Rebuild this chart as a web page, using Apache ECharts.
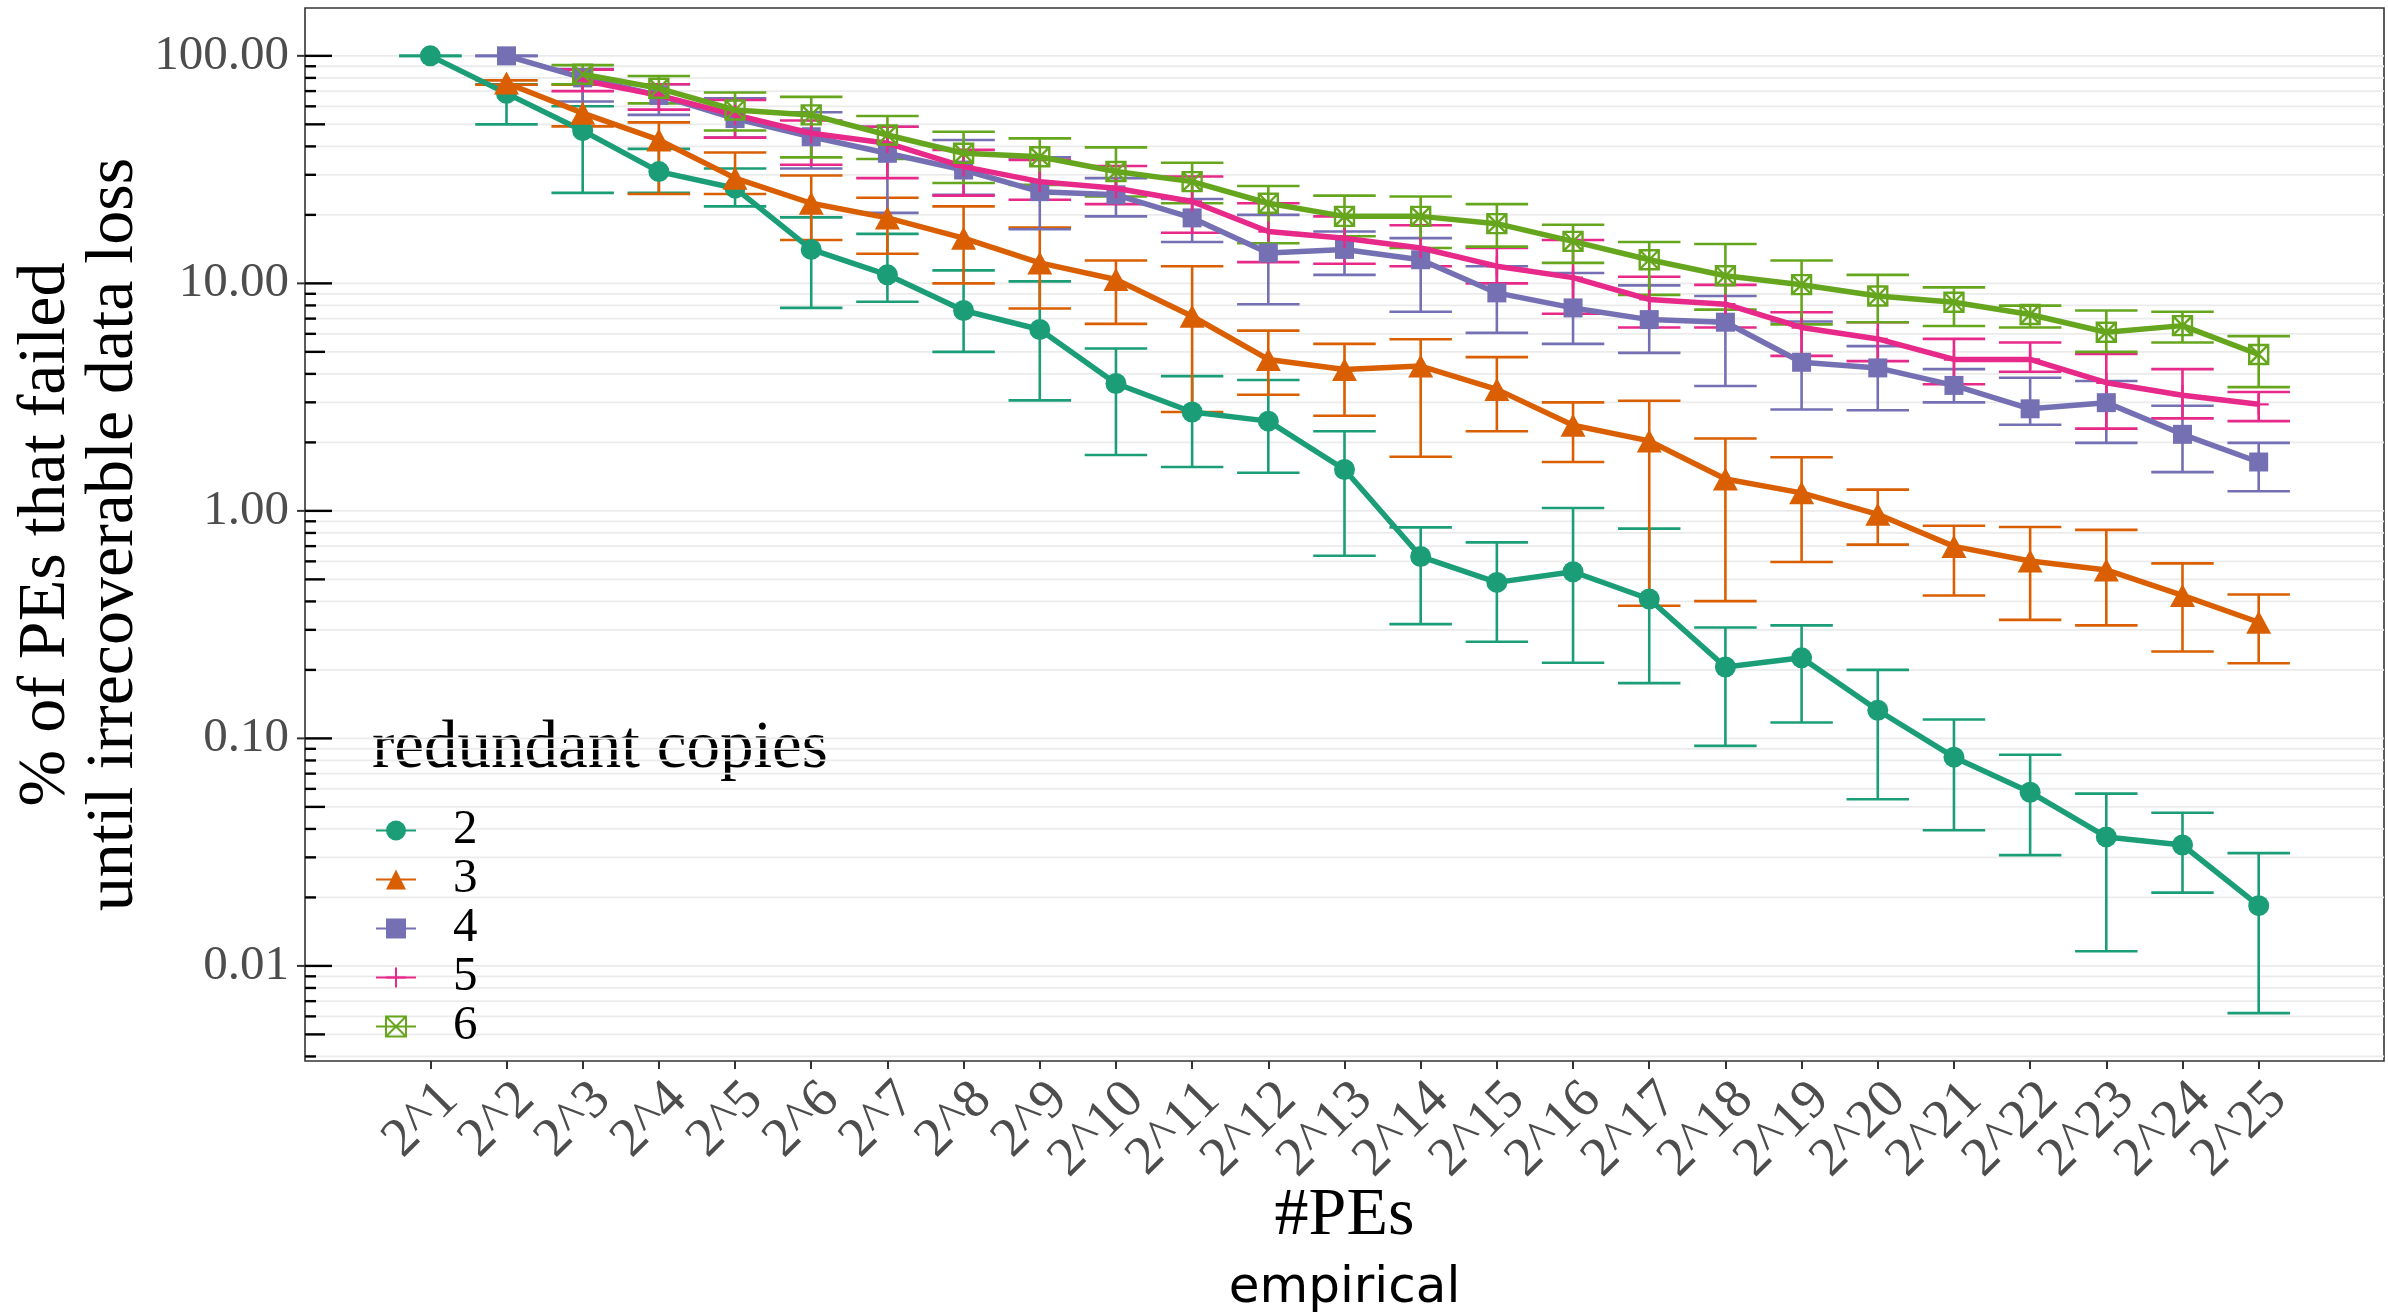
<!DOCTYPE html>
<html>
<head>
<meta charset="utf-8">
<script src="https://cdn.jsdelivr.net/npm/echarts@6/dist/echarts.min.js"></script>
<style>
  html, body { margin: 0; padding: 0; background: #ffffff; }
  #chart { width: 2388px; height: 1313px; }
</style>
</head>
<body>
<div id="chart"></div>
<script>
// x categories: number of PEs
const categories = ['2^1','2^2','2^3','2^4','2^5','2^6','2^7','2^8','2^9','2^10','2^11','2^12','2^13',
  '2^14','2^15','2^16','2^17','2^18','2^19','2^20','2^21','2^22','2^23','2^24','2^25'];

// legend groups: redundant copies
const copies = ['2', '3', '4', '5', '6'];

// mean and error range per group (percent, null = not measured)
const mean2 = [100, 68.4, 46.9, 31, 26.2, 14.1, 10.9, 7.6, 6.27, 3.63, 2.72, 2.48, 1.52, 0.63, 0.485, 0.54, 0.41, 0.206, 0.226, 0.133, 0.0827, 0.058, 0.0369, 0.034, 0.0184];
const lo2   = [100, 50, 25, 25, 21.8, 7.8, 8.3, 5.0, 3.06, 1.76, 1.56, 1.47, 0.635, 0.318, 0.266, 0.215, 0.175, 0.0927, 0.1175, 0.054, 0.0395, 0.0307, 0.0116, 0.021, 0.0062];
const hi2   = [100, 75, 60, 39, 32, 19.5, 16.5, 11.4, 10.2, 5.17, 3.91, 3.76, 2.24, 0.846, 0.727, 1.03, 0.836, 0.307, 0.314, 0.2, 0.121, 0.0847, 0.0572, 0.0471, 0.0313];

const mean3 = [null, 76, 56, 42.7, 29, 22.5, 19.4, 15.8, 12.3, 10.4, 7.17, 4.63, 4.18, 4.33, 3.42, 2.38, 2.03, 1.38, 1.2, 0.966, 0.698, 0.602, 0.55, 0.425, 0.324];
const lo3   = [null, 74.6, 49, 24.7, 24.7, 15.5, 13.5, 10.0, 7.75, 6.64, 2.72, 3.24, 2.62, 1.73, 2.24, 1.64, 0.383, 0.401, 0.596, 0.711, 0.425, 0.332, 0.314, 0.241, 0.214];
const hi3   = [null, 78, 74.6, 51, 37.6, 29.8, 23.8, 21.8, 17.6, 12.6, 11.9, 6.2, 5.42, 5.68, 4.74, 3.0, 3.05, 2.08, 1.72, 1.24, 0.86, 0.85, 0.825, 0.588, 0.429];

const mean4 = [null, 100, 80, 67, 53, 44.1, 37.3, 31.5, 25.3, 24.5, 19.4, 13.6, 14.1, 12.7, 9.08, 7.8, 6.93, 6.75, 4.5, 4.25, 3.56, 2.81, 2.99, 2.17, 1.64];
const lo4   = [null, 100, 63, 55, 43.7, 32, 20.4, 24.5, 17.3, 19.7, 15.2, 8.1, 10.9, 7.5, 6.06, 5.42, 4.95, 3.54, 2.79, 2.77, 3.0, 2.39, 1.99, 1.48, 1.22];
const hi4   = [null, 100, 87.5, 75, 65, 56.5, 48.8, 42.7, 35.8, 29, 23.5, 20, 16.9, 15.8, 11.9, 11.1, 9.8, 8.8, 6.8, 5.3, 4.2, 3.85, 3.72, 2.9, 1.99];

const mean5 = [null, null, 78, 67, 55, 45.7, 41.3, 32.6, 28, 26.2, 22.9, 16.9, 15.8, 14.3, 11.9, 10.6, 8.5, 8.1, 6.4, 5.7, 4.63, 4.63, 3.66, 3.22, 2.94];
const lo5   = [null, null, 70, 58, 43.7, 33.2, 29, 24.3, 23.3, 22.3, 16.7, 12.4, 12.2, 11.9, 10, 7.35, 6.4, 6.4, 4.8, 4.55, 3.6, 4.09, 2.3, 2.55, 2.48];
const hi5   = [null, null, 87, 75, 64, 52, 48.8, 38.6, 34.9, 32.8, 29.5, 22.5, 19.7, 18, 14.3, 15.5, 10.7, 9.85, 7.46, 6.75, 5.7, 5.5, 4.9, 4.2, 3.33];

const mean6 = [null, null, 83, 72, 57.8, 55, 44.9, 37.3, 36, 31, 28, 22.5, 19.7, 19.7, 18.3, 15.3, 12.7, 10.8, 9.87, 8.8, 8.26, 7.3, 6.1, 6.52, 4.87];
const lo6   = [null, null, 75, 61.8, 47, 35.8, 35.2, 27.6, 27.1, 24.1, 22.5, 15, 16.1, 14.3, 14.5, 12.3, 8.9, 7.67, 6.6, 6.75, 6.5, 6.4, 5.0, 5.5, 3.5];
const hi6   = [null, null, 91, 81.5, 69, 66, 54.4, 46.4, 43.4, 39.6, 33.9, 26.8, 24.3, 24.1, 22.3, 18.1, 15.2, 14.9, 12.6, 10.9, 9.6, 7.98, 7.6, 7.5, 5.86];

// y axis: decades used for labels, grid lines and log ticks
const yLabelValues = [0.01, 0.1, 1, 10, 100];
const decades = [0.001, 0.01, 0.1, 1, 10, 100];
const mantissas = [1, 2, 3, 4, 5, 6, 7, 8, 9];

// ---------------------------------------------------------------
const groups = [
  { name: copies[0], mean: mean2, lo: lo2, hi: hi2, color: '#1B9E77', symbol: 'circle', size: 21 },
  { name: copies[1], mean: mean3, lo: lo3, hi: hi3, color: '#D95F02', symbol: 'triangle', size: [25, 23] },
  { name: copies[2], mean: mean4, lo: lo4, hi: hi4, color: '#7570B3', symbol: 'rect', size: 19 },
  { name: copies[3], mean: mean5, lo: lo5, hi: hi5, color: '#E7298A', symbol: 'path://M5,0L5,10M0,5L10,5', size: 20, hollow: true },
  { name: copies[4], mean: mean6, lo: lo6, hi: hi6, color: '#66A61E', symbol: 'path://M0,0L10,0L10,10L0,10ZM0,0L10,10M10,0L0,10', size: 19, hollow: true }
];

const Y_MIN = 0.00382, Y_MAX = 162.3;
const X_MIN = -0.645, X_MAX = 26.645;
const CAP_HALF = 0.41;
const SERIF = "'Liberation Serif', 'Times New Roman', serif";
const PANEL = { left: 305, top: 8, width: 2079, height: 1053 };

const xTickValues = categories.map((c, i) => i + 1);
// blank labels at both panel edges keep the end labels from being dropped as overlapping
const xLabelValues = [X_MIN].concat(xTickValues, [X_MAX]);

const gridValues = [];
decades.forEach(d => mantissas.forEach(m => {
  const v = +(d * m).toPrecision(6);
  if (v >= Y_MIN && v <= Y_MAX) gridValues.push({ value: [1, v], mant: m });
}));

const series = [];

// horizontal grid lines at every 1..9 x 10^k
series.push({
  type: 'custom',
  silent: true,
  z: 1,
  clip: true,
  data: gridValues.map(g => g.value),
  renderItem: (params, api) => {
    const cs = params.coordSys;
    const y = api.coord([1, api.value(1)])[1];
    return {
      type: 'line',
      shape: { x1: cs.x, y1: y, x2: cs.x + cs.width, y2: y },
      style: { stroke: '#EBEBEB', lineWidth: 1.8 }
    };
  }
});

// error bars
groups.forEach(g => {
  const data = [];
  g.mean.forEach((m, i) => { if (m !== null) data.push([i + 1, g.lo[i], g.hi[i]]); });
  series.push({
    type: 'custom',
    silent: true,
    z: 2,
    data: data,
    encode: { x: 0, y: [1, 2] },
    renderItem: (params, api) => {
      const x = api.value(0);
      const pLo = api.coord([x, api.value(1)]);
      const pHi = api.coord([x, api.value(2)]);
      const xl = api.coord([x - CAP_HALF, api.value(1)])[0];
      const xr = api.coord([x + CAP_HALF, api.value(1)])[0];
      const st = { stroke: g.color, lineWidth: 2.6 };
      return {
        type: 'group',
        children: [
          { type: 'line', shape: { x1: pLo[0], y1: pLo[1], x2: pHi[0], y2: pHi[1] }, style: st },
          { type: 'line', shape: { x1: xl, y1: pLo[1], x2: xr, y2: pLo[1] }, style: st },
          { type: 'line', shape: { x1: xl, y1: pHi[1], x2: xr, y2: pHi[1] }, style: st }
        ]
      };
    }
  });
});

// mean lines with point markers
groups.forEach((g, gi) => {
  const data = [];
  g.mean.forEach((m, i) => { if (m !== null) data.push([i + 1, m]); });
  series.push({
    name: g.name,
    type: 'line',
    z: 3 + gi * 0.01,
    data: data,
    symbol: g.symbol,
    symbolSize: g.size,
    showSymbol: true,
    lineStyle: { color: g.color, width: 5.5 },
    itemStyle: g.hollow
      ? { color: 'rgba(255,255,255,0)', borderColor: g.color, borderWidth: 2.4 }
      : { color: g.color, borderWidth: 0 },
    emphasis: { disabled: true }
  });
});

// log ticks inside the panel plus outer ticks at the labelled decades
series.push({
  type: 'custom',
  silent: true,
  z: 5,
  clip: false,
  data: gridValues.map(g => [1, g.value[1], g.mant]),
  renderItem: (params, api) => {
    const cs = params.coordSys;
    const y = api.coord([1, api.value(1)])[1];
    const m = api.value(2);
    const len = m === 1 ? 27 : (m === 5 ? 20 : 11);
    const children = [
      { type: 'line', shape: { x1: cs.x, y1: y, x2: cs.x + len, y2: y }, style: { stroke: '#000', lineWidth: 2.4 } }
    ];
    if (m === 1) {
      children.push({ type: 'line', shape: { x1: cs.x - 8, y1: y, x2: cs.x, y2: y }, style: { stroke: '#333', lineWidth: 2 } });
    }
    return { type: 'group', children: children };
  }
});

const chart = echarts.init(document.getElementById('chart'), null, { renderer: 'canvas' });
chart.setOption({
  animation: false,
  backgroundColor: '#ffffff',
  textStyle: { fontFamily: SERIF },
  grid: {
    left: PANEL.left, top: PANEL.top, width: PANEL.width, height: PANEL.height,
    containLabel: false,
    outerBoundsMode: 'none',
    show: true, backgroundColor: '#ffffff', borderColor: '#333333', borderWidth: 1.6
  },
  xAxis: {
    type: 'value',
    min: X_MIN, max: X_MAX,
    axisLine: { show: false },
    splitLine: { show: false },
    axisTick: { show: true, customValues: xTickValues, length: 8, lineStyle: { color: '#333', width: 2 } },
    axisLabel: {
      customValues: xLabelValues,
      formatter: v => categories[Math.round(v) - 1] || '',
      rotate: 45,
      align: 'right',
      verticalAlign: 'top',
      margin: 11,
      hideOverlap: false,
      fontFamily: SERIF, fontSize: 55, color: '#4D4D4D'
    },
    name: '{a|#PEs}\n{b|empirical}',
    nameLocation: 'middle',
    nameGap: 124,
    nameMoveOverlap: false,
    nameTextStyle: {
      rich: {
        a: { fontFamily: SERIF, fontSize: 68, lineHeight: 62, color: '#000' },
        b: { fontFamily: "'DejaVu Sans', sans-serif", fontSize: 50, lineHeight: 84, color: '#000' }
      }
    }
  },
  yAxis: {
    type: 'log',
    logBase: 10,
    min: Y_MIN, max: Y_MAX,
    axisLine: { show: false },
    axisTick: { show: false },
    splitLine: { show: false },
    axisLabel: {
      formatter: v => (yLabelValues.some(t => Math.abs(t - v) / t < 1e-6) ? v.toFixed(2) : ''),
      showMinLabel: false, showMaxLabel: false,
      margin: 16,
      fontFamily: SERIF, fontSize: 49, color: '#4D4D4D'
    }
  },
  legend: {
    orient: 'vertical',
    left: 375, top: 806,
    padding: 0,
    itemGap: 0,
    itemWidth: 40, itemHeight: 25,
    selectedMode: false,
    data: copies,
    textStyle: { fontFamily: SERIF, fontSize: 49, lineHeight: 48.5, color: '#000', padding: [0, 0, 0, 32] }
  },
  graphic: [
    {
      type: 'text',
      left: 372, top: 716,
      style: { text: 'redundant copies', fontFamily: SERIF, fontSize: 67, fill: '#000' }
    },
    {
      type: 'text',
      x: 80, y: PANEL.top + PANEL.height / 2,
      rotation: Math.PI / 2,
      style: {
        text: '% of PEs that failed\nuntil irrecoverable data loss',
        fontFamily: SERIF, fontSize: 68, lineHeight: 68, fill: '#000',
        align: 'center', verticalAlign: 'middle'
      }
    }
  ],
  series: series
});
</script>
</body>
</html>
